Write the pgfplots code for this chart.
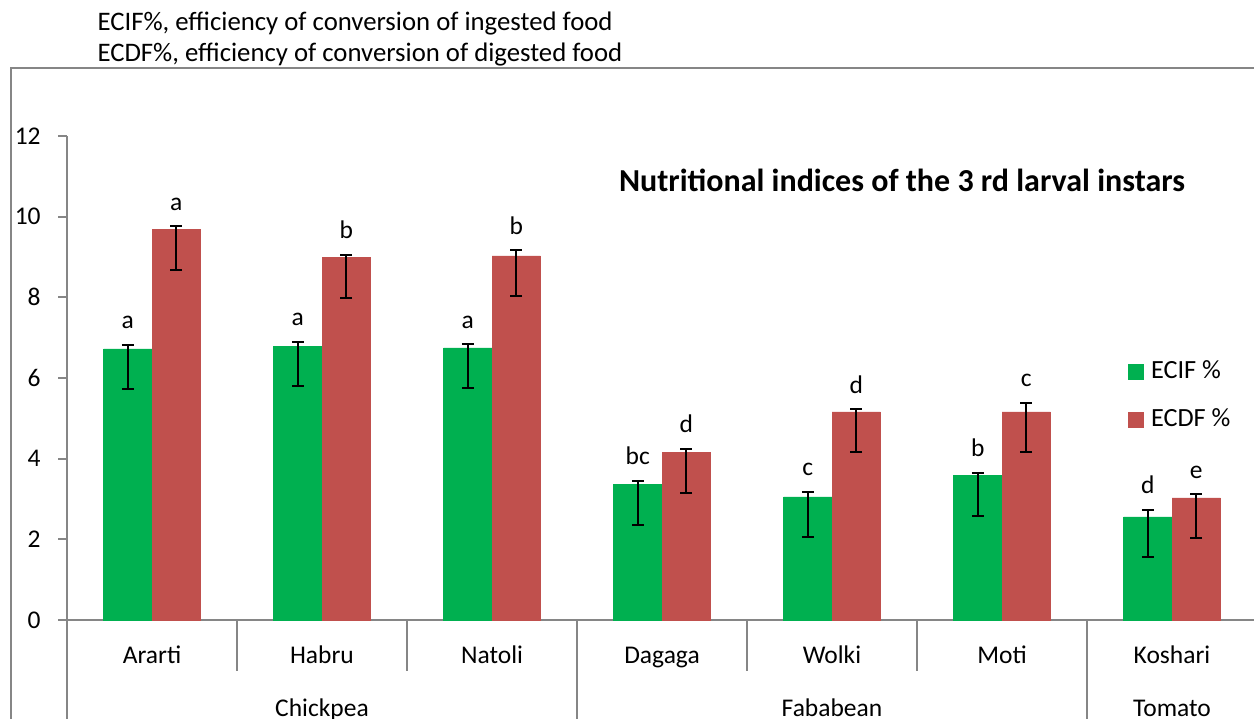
\documentclass[border=0pt]{standalone}
\usepackage{pgfplots}
\pgfplotsset{compat=1.18}
\usepackage{pgfplotstable}
\usepackage{fontspec}
\setmainfont{Carlito}
\definecolor{ggreen}{HTML}{00B050}
\definecolor{rred}{HTML}{C0504D}
\definecolor{axgray}{HTML}{868686}

\pgfplotstableread{
x       y    ep   em   top  lab
-0.1425 6.72 0.10 1.0 6.82 a
0.8575  6.79 0.11 1.0 6.90 a
1.8575  6.75 0.09 1.0 6.84 a
2.8575  3.36 0.09 1.0 3.45 bc
3.8575  3.05 0.13 1.0 3.18 c
4.8575  3.58 0.07 1.0 3.65 b
5.8575  2.56 0.17 1.0 2.73 d
}\ecif

\pgfplotstableread{
x       y    ep   em   top  lab
0.1425  9.69 0.07 1.0 9.76 a
1.1425  8.99 0.07 1.0 9.06 b
2.1425  9.03 0.14 1.0 9.17 b
3.1425  4.16 0.09 1.0 4.25 d
4.1425  5.16 0.07 1.0 5.23 d
5.1425  5.16 0.23 1.0 5.39 c
6.1425  3.03 0.09 1.0 3.12 e
}\ecdf

\begin{document}
\begin{tikzpicture}[font=\fontsize{10.2}{12}\selectfont]
\begin{axis}[
  at={(0,0)}, anchor=south west, scale only axis,
  width=476pt, height=193.6pt,
  xmin=-0.5, xmax=6.5, ymin=0, ymax=12,
  axis lines=left,
  axis line style={-, draw=axgray, line width=0.8pt},
  tick align=outside,
  ytick={0,2,...,12},
  ytick style={axgray, line width=0.8pt},
  major tick length=3.6pt,
  yticklabel style={xshift=-3.4pt},
  xtick={0,...,6},
  xticklabels={Ararti,Habru,Natoli,Dagaga,Wolki,Moti,Koshari},
  xtick style={draw=none},
  xticklabel style={anchor=base, yshift=-13.6pt},
  /pgf/number format/assume math mode=true,
  ticklabel style={font=\fontsize{10.2}{12}\selectfont},
  clip=false,
  legend style={at={(0.8849,0.5475)}, anchor=north west, draw=none, fill=none,
    legend cell align=left, row sep=10.2pt, column sep=2.8pt,
    nodes={inner sep=0pt, text height=7pt, text depth=2pt},
    font=\fontsize{10.5}{12.5}\selectfont},
]
\addplot[ybar, bar width=0.285, bar shift=0pt, fill=ggreen, draw=ggreen, line width=0.1pt, forget plot,
  error bars/.cd, y dir=both, y explicit, error mark=|,
  error bar style={draw=black, line width=0.8pt},
  error mark options={draw=black, line width=0.8pt, mark size=2.4pt, solid}]
  table[x=x, y=y, y error plus=ep, y error minus=em] {\ecif};
\addplot[ybar, bar width=0.285, bar shift=0pt, fill=rred, draw=rred, line width=0.1pt, forget plot,
  error bars/.cd, y dir=both, y explicit, error mark=|,
  error bar style={draw=black, line width=0.8pt},
  error mark options={draw=black, line width=0.8pt, mark size=2.4pt, solid}]
  table[x=x, y=y, y error plus=ep, y error minus=em] {\ecdf};
\addplot[draw=none, mark=none, forget plot, nodes near coords, point meta=explicit symbolic,
  nodes near coords style={anchor=base, inner sep=0pt, yshift=6.4pt, text=black}]
  table[x=x, y=top, meta=lab] {\ecif};
\addplot[draw=none, mark=none, forget plot, nodes near coords, point meta=explicit symbolic,
  nodes near coords style={anchor=base, inner sep=0pt, yshift=6.4pt, text=black}]
  table[x=x, y=top, meta=lab] {\ecdf};
\addlegendimage{legend image code/.code={\fill[ggreen] (0pt,-3pt) rectangle (6pt,3pt);}}
\addlegendentry{ECIF \%}
\addlegendimage{legend image code/.code={\fill[rred] (0pt,-3pt) rectangle (6pt,3pt);}}
\addlegendentry{ECDF \%}
\draw[axgray, line width=0.8pt] (axis cs:0.5,0) -- ++(0pt,-20.4pt);
\draw[axgray, line width=0.8pt] (axis cs:1.5,0) -- ++(0pt,-20.4pt);
\draw[axgray, line width=0.8pt] (axis cs:3.5,0) -- ++(0pt,-20.4pt);
\draw[axgray, line width=0.8pt] (axis cs:4.5,0) -- ++(0pt,-20.4pt);
\draw[axgray, line width=0.8pt] (axis cs:-0.5,0) -- ++(0pt,-40pt);
\draw[axgray, line width=0.8pt] (axis cs:2.5,0) -- ++(0pt,-40pt);
\draw[axgray, line width=0.8pt] (axis cs:5.5,0) -- ++(0pt,-40pt);
\node[anchor=base, inner sep=0pt, yshift=-38.4pt] at (axis cs:1,0) {Chickpea};
\node[anchor=base, inner sep=0pt, yshift=-38.4pt] at (axis cs:4,0) {Fababean};
\node[anchor=base, inner sep=0pt, yshift=-38.4pt] at (axis cs:6,0) {Tomato};
\end{axis}
\begin{scope}[x=0.4pt,y=-0.4pt,shift={(-26.8pt,248pt)}]
\draw[axgray, line width=0.8pt] (11,725) -- (11,68) -- (1260,68);
\node[anchor=base west, inner sep=0pt, font=\fontsize{10.7}{12.8}\selectfont] at (97,31) {ECIF\%, efficiency of conversion of ingested food};
\node[anchor=base west, inner sep=0pt, font=\fontsize{10.7}{12.8}\selectfont] at (97,62) {ECDF\%, efficiency of conversion of digested food};
\node[anchor=base, inner sep=0pt, font=\fontsize{12.8}{15}\selectfont\bfseries] at (902,192) {Nutritional indices of the 3 rd larval instars};
\pgfresetboundingbox
\path[use as bounding box] (0,0) rectangle (1254,719);
\end{scope}
\end{tikzpicture}
\end{document}
